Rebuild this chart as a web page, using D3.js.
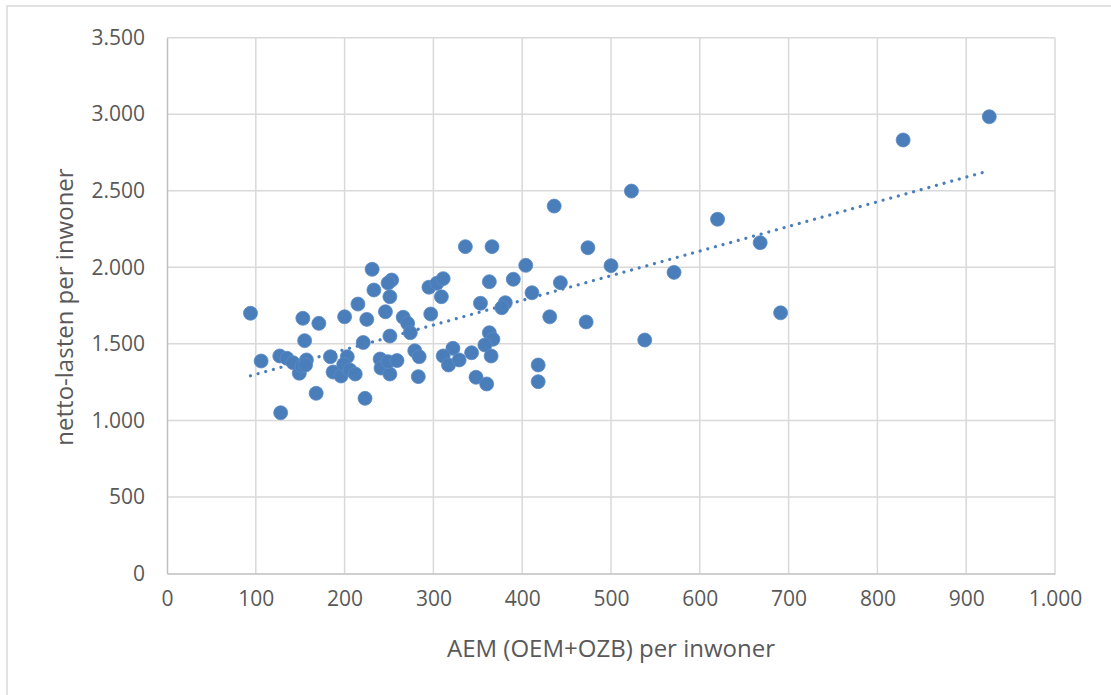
<!DOCTYPE html>
<html><head><meta charset="utf-8">
<script src="https://cdn.jsdelivr.net/npm/d3@7"></script>
<style>
html,body{margin:0;padding:0;background:#fff;}
svg{display:block;}
text{font-family:"Open Sans","Noto Sans",sans-serif;fill:#595959;}
</style></head>
<body>
<svg id="chart" width="1111" height="695"></svg>
<script>
const aem = [94,106,127,135,142,149,152,153,171,155,157,156,168,128,184,187,196,200,203,199,206,212,215,225,221,223,231,253,249,233,251,246,266,271,274,251,240,241,251,249,259,279,284,283,295,297,304,311,309,336,366,404,363,390,443,411,353,381,377,431,363,367,358,365,322,311,317,329,343,348,360,418,418,523,474,500,571,472,538,436,926,829,620,668,691];
const lasten = [1700,1388,1421,1406,1377,1308,1355,1667,1634,1521,1395,1362,1177,1050,1416,1316,1290,1677,1416,1366,1329,1303,1760,1660,1509,1144,1987,1917,1898,1852,1808,1710,1674,1634,1573,1551,1401,1342,1303,1384,1391,1455,1416,1286,1870,1695,1896,1926,1808,2135,2135,2013,1906,1922,1900,1834,1765,1769,1736,1677,1573,1530,1493,1421,1471,1421,1362,1395,1442,1282,1238,1362,1253,2498,2128,2011,1967,1643,1525,2400,2984,2832,2314,2161,1703];
const xTicks = [0,100,200,300,400,500,600,700,800,900,1000];
const yTicks = [0,500,1000,1500,2000,2500,3000,3500];
const xTitle = "AEM (OEM+OZB) per inwoner";
const yTitle = "netto-lasten per inwoner";

const nl = d3.formatLocale({decimal:",", thousands:".", grouping:[3], currency:["€",""]});
const fmt = nl.format(",d");

const svg = d3.select("#chart");
const x = d3.scaleLinear().domain([0,1000]).range([167,1055]);
const y = d3.scaleLinear().domain([0,3500]).range([573.5,37.7]);

// outer border
svg.append("rect").attr("x",7).attr("y",6).attr("width",1130).attr("height",710)
  .attr("fill","none").attr("stroke","#d9d9d9").attr("stroke-width",1.5);

// gridlines
svg.append("g").selectAll("line.v").data(xTicks.slice(1)).join("line")
  .attr("x1",d=>x(d)).attr("x2",d=>x(d)).attr("y1",y(3500)).attr("y2",y(0))
  .attr("stroke","#d9d9d9").attr("stroke-width",1.5);
svg.append("g").selectAll("line.h").data(yTicks.slice(1)).join("line")
  .attr("x1",x(0)).attr("x2",x(1000)).attr("y1",d=>y(d)).attr("y2",d=>y(d))
  .attr("stroke","#d9d9d9").attr("stroke-width",1.5);

// axes
const xAxis = d3.axisBottom(x).tickValues(xTicks).tickFormat(fmt).tickSize(0).tickPadding(18);
const yAxis = d3.axisLeft(y).tickValues(yTicks).tickFormat(fmt).tickSize(0).tickPadding(22);
const gx = svg.append("g").attr("transform",`translate(0,${y(0)})`).call(xAxis);
const gy = svg.append("g").attr("transform",`translate(${x(0)},0)`).call(yAxis);
[gx,gy].forEach(g=>{
  g.select(".domain").attr("stroke","#bfbfbf").attr("stroke-width",1.5);
  g.selectAll("text").style("font-size","21px").style("fill","#595959")
   .style("font-family","'Open Sans','Noto Sans',sans-serif");
});

// trendline (least squares)
const n = aem.length;
const mx = d3.mean(aem), my = d3.mean(lasten);
let sxy=0, sxx=0;
for(let i=0;i<n;i++){ sxy+=(aem[i]-mx)*(lasten[i]-my); sxx+=(aem[i]-mx)**2; }
const b = sxy/sxx, a = my - b*mx;
const xmin = d3.min(aem), xmax = d3.max(aem);
svg.append("line")
  .attr("x1",x(xmin)).attr("y1",y(a+b*xmin)).attr("x2",x(xmax)).attr("y2",y(a+b*xmax))
  .attr("stroke","#4a7ebb").attr("stroke-width",3.2).attr("stroke-linecap","round")
  .attr("stroke-dasharray","0.01,7.9");

// points
svg.append("g").selectAll("circle").data(aem.map((v,i)=>[v,lasten[i]])).join("circle")
  .attr("cx",d=>x(d[0])).attr("cy",d=>y(d[1])).attr("r",7)
  .attr("fill","#4a7ebb").attr("stroke","#5a8ac4").attr("stroke-width",0.8);

// titles
svg.append("text").attr("x",611).attr("y",657).attr("text-anchor","middle")
  .style("font-size","24px").text(xTitle);
svg.append("text").attr("transform",`translate(73,307) rotate(-90)`).attr("text-anchor","middle")
  .style("font-size","24px").text(yTitle);
</script>
</body></html>
